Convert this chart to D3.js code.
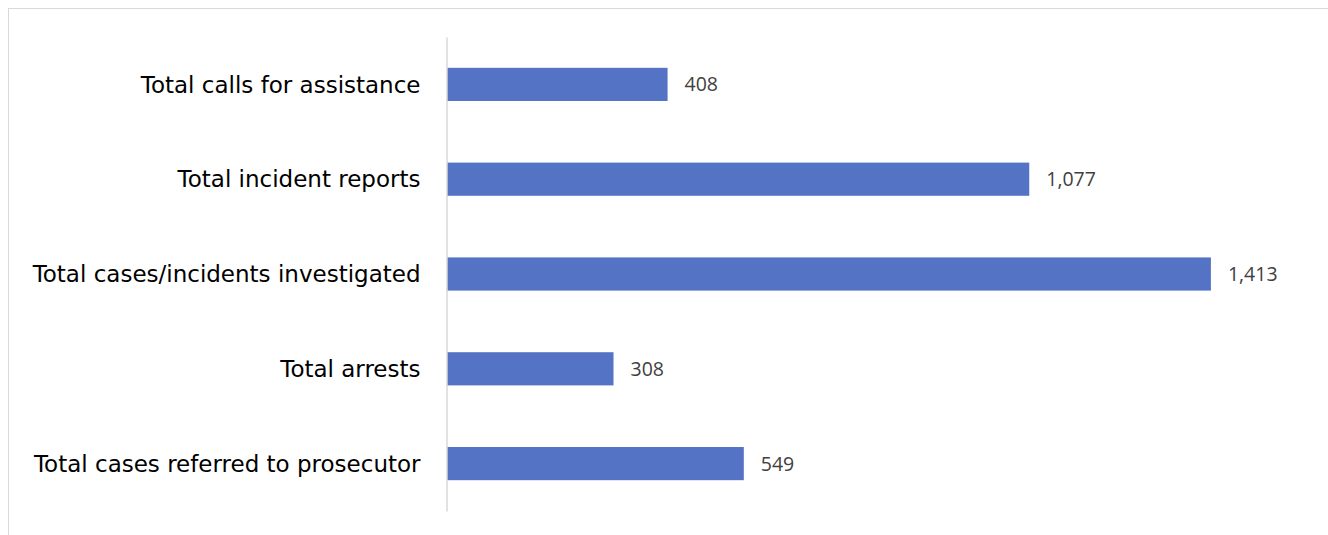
<!DOCTYPE html>
<html><head><meta charset="utf-8">
<script src="https://cdn.jsdelivr.net/npm/d3@7"></script>
<style>
html,body{margin:0;padding:0;background:#fff;}
svg{display:block;}
</style></head>
<body>
<svg id="chart" width="1328" height="535"></svg>
<script>
const categories = [
  "Total calls for assistance",
  "Total incident reports",
  "Total cases/incidents investigated",
  "Total arrests",
  "Total cases referred to prosecutor"
];
const values = [408, 1077, 1413, 308, 549];
const xDomain = [0, 1600];

const svg = d3.select("#chart");
const W = 1328, H = 535;

// outer chart frame
svg.append("rect").attr("x", 8.5).attr("y", 8.5).attr("width", W + 10).attr("height", H + 10)
  .attr("fill", "#fff").attr("stroke", "#d9d9d9").attr("stroke-width", 1);

const x = d3.scaleLinear().domain(xDomain).range([447, 1312]);
const y = d3.scaleBand().domain(categories).range([37, 511]).paddingInner(0.65).paddingOuter(0.325);

svg.append("g").selectAll("rect").data(categories).join("rect")
  .attr("x", x(0))
  .attr("y", d => y(d))
  .attr("width", (d, i) => x(values[i]) - x(0))
  .attr("height", y.bandwidth())
  .attr("fill", "#5573c5");

// axis
const yAxis = d3.axisLeft(y).tickSize(0).tickPadding(26);
const ga = svg.append("g").attr("transform", `translate(${x(0) - 0.5},0)`).call(yAxis);
ga.select(".domain").attr("stroke", "#d9d9d9").attr("stroke-width", 1.5);
ga.selectAll("text")
  .attr("font-family", "'DejaVu Sans', sans-serif")
  .attr("font-size", 23)
  .attr("fill", "#000")
  .attr("dy", "0.36em");

// value labels
svg.append("g").selectAll("text").data(categories).join("text")
  .attr("x", (d, i) => x(values[i]) + 17)
  .attr("y", d => y(d) + y.bandwidth() / 2)
  .attr("dy", "0.36em")
  .attr("font-family", "'Open Sans', sans-serif")
  .attr("font-size", 19.5)
  .attr("fill", "#404040")
  .text((d, i) => d3.format(",")(values[i]));
</script>
</body></html>
